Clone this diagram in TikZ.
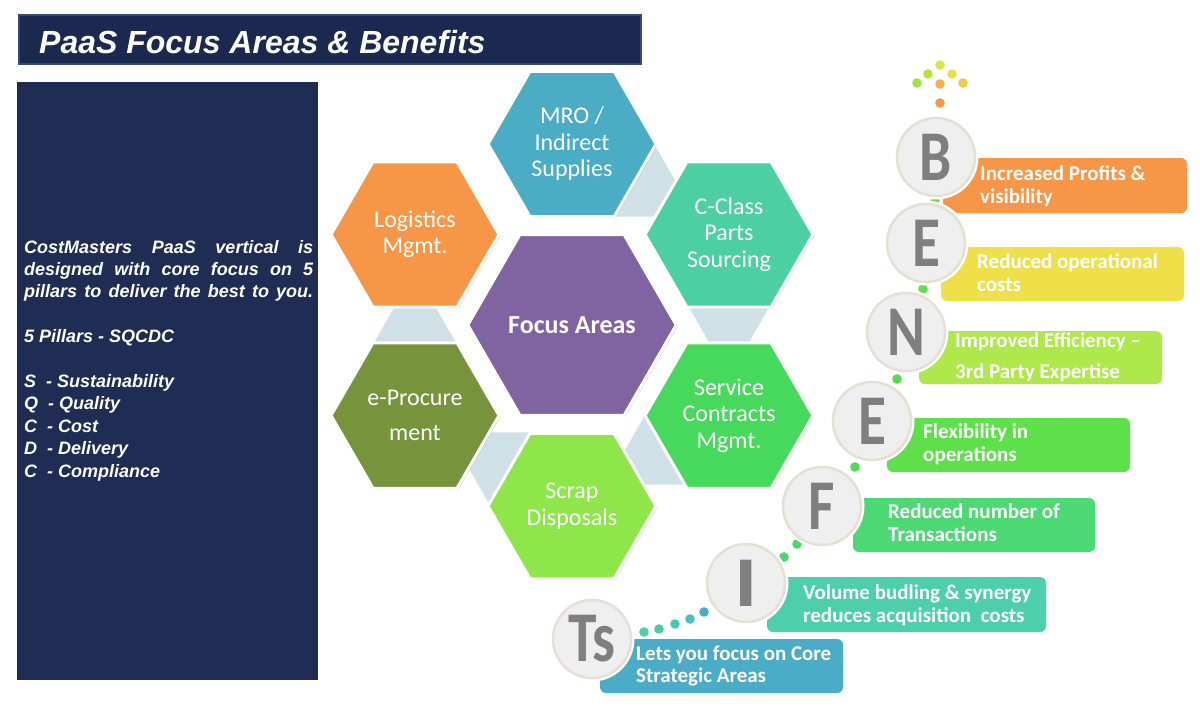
\documentclass[tikz,border=0pt]{standalone}
\usepackage{graphicx}
\usepackage{fontspec}
\setmainfont{Liberation Sans}
\newfontfamily\calfont{Carlito}
\usetikzlibrary{shapes.geometric,shadows}
\definecolor{titlenavy}{HTML}{1B2950}
\definecolor{titleedge}{HTML}{3A4870}
\definecolor{panelnavy}{HTML}{1F2D54}
\definecolor{linkgrey}{HTML}{CFE0E7}
\definecolor{hexblue}{HTML}{4BACC6}
\definecolor{hexorange}{HTML}{F79646}
\definecolor{hexpurple}{HTML}{8064A2}
\definecolor{hexteal}{HTML}{4DCFA4}
\definecolor{hexgreen}{HTML}{47D95B}
\definecolor{hexlime}{HTML}{8EE64A}
\definecolor{hexolive}{HTML}{77933C}
\definecolor{boxorange}{HTML}{F79646}
\definecolor{boxyellow}{HTML}{EFE04A}
\definecolor{boxlime}{HTML}{AEE84A}
\definecolor{boxgreen}{HTML}{5EE04A}
\definecolor{boxgreenb}{HTML}{4CD873}
\definecolor{boxteal}{HTML}{4DCFAB}
\definecolor{boxblue}{HTML}{4AACC6}
\definecolor{circfill}{HTML}{EFEFEF}
\definecolor{circedge}{HTML}{E4E0D4}
\definecolor{lettergrey}{HTML}{7F7F7F}
\newcommand\narrowltr[1]{\scalebox{0.82}[1.02]{#1}}
\begin{document}
\begin{tikzpicture}[x=1pt,y=-1pt,
  hexbox/.style={regular polygon, regular polygon sides=6, minimum size=168pt, inner sep=0pt,
    draw=white, line width=3pt, text=white, align=center,
    font=\calfont\fontsize{24}{26.5}\selectfont,
    drop shadow={shadow xshift=1.5pt, shadow yshift=-1.5pt, opacity=0.3}},
  linkhex/.style={regular polygon, regular polygon sides=6, minimum size=80pt, inner sep=0pt, fill=linkgrey},
  benbox/.style={rectangle, rounded corners=6pt, inner sep=0pt},
  bentext/.style={anchor=base west, inner sep=0pt, text=white, font=\calfont\bfseries\fontsize{21}{23}\selectfont},
  letter/.style={circle, minimum size=78pt, inner sep=0pt, fill=circfill, draw=circedge, line width=2.5pt,
    preaction={draw=white, line width=7pt},
    text=lettergrey, font=\calfont\bfseries\fontsize{70}{70}\selectfont},
  pillar/.style={anchor=base west, inner sep=0pt, text=white, font=\bfseries\itshape\fontsize{18}{22}\selectfont},
]
\useasboundingbox (0,0) rectangle (1200,720);
\fill[white] (0,0) rectangle (1200,720);

% title bar
\draw[fill=titlenavy, draw=titleedge, line width=2.5pt] (19,15) rectangle (641,64);
\node[anchor=base west, inner sep=0pt, text=white, font=\bfseries\itshape\fontsize{32}{32}\selectfont] (title) at (39,53) {PaaS Focus Areas \& Benefits};

% left panel
\fill[panelnavy] (17,82) rectangle (318,680);
\node[pillar] (l1) at (24,253) {\makebox[289pt][s]{CostMasters PaaS vertical is}};
\node[pillar] (l2) at (24,275.4) {\makebox[289pt][s]{designed with core focus on 5}};
\node[pillar] (l3) at (24,297.8) {\makebox[289pt][s]{pillars to deliver the best to you.}};
\node[pillar] (l4) at (24,342.6) {5 Pillars - SQCDC};
\node[pillar] (l5) at (24,387.4) {S \ - Sustainability};
\node[pillar] (l6) at (24,409.8) {Q \ - Quality};
\node[pillar] (l7) at (24,432.2) {C \ - Cost};
\node[pillar] (l8) at (24,454.6) {D \ - Delivery};
\node[pillar] (l9) at (24,477) {C \ - Compliance};

% connector hexagons
\node[linkhex] (k1) at (636,182) {};
\node[linkhex] (k2) at (729,307.5) {};
\node[linkhex] (k3) at (665,450) {};
\node[linkhex] (k4) at (508,467) {};
\node[linkhex] (k5) at (415,341) {};

% focus area hexagons
\node[hexbox, fill=hexblue] (mro) at (572,144) {MRO /\\Indirect\\Supplies};
\node[hexbox, fill=hexteal] (cclass) at (729,234.5) {C-Class\\Parts\\Sourcing};
\node[hexbox, fill=hexgreen] (service) at (729,415.5) {Service\\Contracts\\Mgmt.};
\node[hexbox, fill=hexlime] (scrap) at (572,506) {Scrap\\Disposals};
\node[hexbox, fill=hexolive] (eproc) at (415,415.5) {e-Procure\\[9pt]ment};
\node[hexbox, fill=hexorange] (logistics) at (415,234.5) {Logistics\\Mgmt.};
\node[hexbox, fill=hexpurple, minimum size=206pt, font=\calfont\bfseries\fontsize{26}{30}\selectfont] (focus) at (572,325) {Focus Areas};

% benefit boxes
\node[benbox, fill=boxorange, minimum width=244pt, minimum height=55pt] (box1) at (1065,185.5) {};
\node[benbox, fill=boxyellow, minimum width=243pt, minimum height=54pt] (box2) at (1062.5,274) {};
\node[benbox, fill=boxlime, minimum width=243pt, minimum height=53pt] (box3) at (1040.5,357.5) {};
\node[benbox, fill=boxgreen, minimum width=243pt, minimum height=54pt] (box4) at (1008.5,445) {};
\node[benbox, fill=boxgreenb, minimum width=242pt, minimum height=54pt] (box5) at (974,525) {};
\node[benbox, fill=boxteal, minimum width=279pt, minimum height=55pt] (box6) at (906.5,604.5) {};
\node[benbox, fill=boxblue, minimum width=243pt, minimum height=54pt] (box7) at (721.5,666) {};

\node[bentext] (t1a) at (980,180) {Increased Profits \&};
\node[bentext] (t1b) at (980,203) {visibility};
\node[bentext] (t2a) at (977,268) {Reduced operational};
\node[bentext] (t2b) at (977,291) {costs};
\node[bentext] (t3a) at (955,347) {Improved Efficiency –};
\node[bentext] (t3b) at (955,378.5) {3rd Party Expertise};
\node[bentext] (t4a) at (923,438.5) {Flexibility in};
\node[bentext] (t4b) at (923,461) {operations};
\node[bentext] (t5a) at (888,518) {Reduced number of};
\node[bentext] (t5b) at (888,541.5) {Transactions};
\node[bentext] (t6a) at (803,599.5) {Volume budling \& synergy};
\node[bentext] (t6b) at (803,622) {reduces acquisition \ costs};
\node[bentext] (t7a) at (636,660) {Lets you focus on Core};
\node[bentext] (t7b) at (636,682.5) {Strategic Areas};

% dots
\fill[color={rgb,255:red,166;green,224;blue,74}] (917,83) circle (4.8);
\fill[color={rgb,255:red,184;green,226;blue,62}] (928,74) circle (4.8);
\fill[color={rgb,255:red,214;green,232;blue,74}] (940,65) circle (4.8);
\fill[color={rgb,255:red,236;green,224;blue,74}] (952,74) circle (4.8);
\fill[color={rgb,255:red,242;green,200;blue,74}] (963,83) circle (4.8);
\fill[color={rgb,255:red,245;green,176;blue,74}] (940,84) circle (4.8);
\fill[color={rgb,255:red,247;green,150;blue,70}] (940,103) circle (4.8);
\fill[color={rgb,255:red,108;green,224;blue,74}] (935,201) circle (4.8);
\fill[color={rgb,255:red,94;green,224;blue,74}] (923,289) circle (4.8);
\fill[color={rgb,255:red,85;green,222;blue,74}] (897,379) circle (4.8);
\fill[color={rgb,255:red,78;green,220;blue,85}] (855,467) circle (4.8);
\fill[color={rgb,255:red,74;green,218;blue,102}] (797,544) circle (4.8);
\fill[color={rgb,255:red,74;green,216;blue,106}] (784,557) circle (4.8);
\fill[color={rgb,255:red,74;green,172;blue,198}] (704,612) circle (4.8);
\fill[color={rgb,255:red,74;green,191;blue,192}] (690,619) circle (4.8);
\fill[color={rgb,255:red,74;green,200;blue,180}] (675,624) circle (4.8);
\fill[color={rgb,255:red,74;green,204;blue,170}] (659,629) circle (4.8);
\fill[color={rgb,255:red,77;green,208;blue,160}] (644,632) circle (4.8);

% letter circles
\node[letter] (cB) at (936,157) {\narrowltr{B}};
\node[letter] (cE) at (926,243) {\narrowltr{E}};
\node[letter] (cN) at (906,332) {\narrowltr{N}};
\node[letter] (cE2) at (872,421) {\narrowltr{E}};
\node[letter] (cF) at (822,506) {\narrowltr{F}};
\node[letter] (cI) at (746,583) {\scalebox{1.25}[1.02]{I}};
\node[letter] (cTs) at (592,639) {\narrowltr{Ts}};
\end{tikzpicture}
\end{document}
